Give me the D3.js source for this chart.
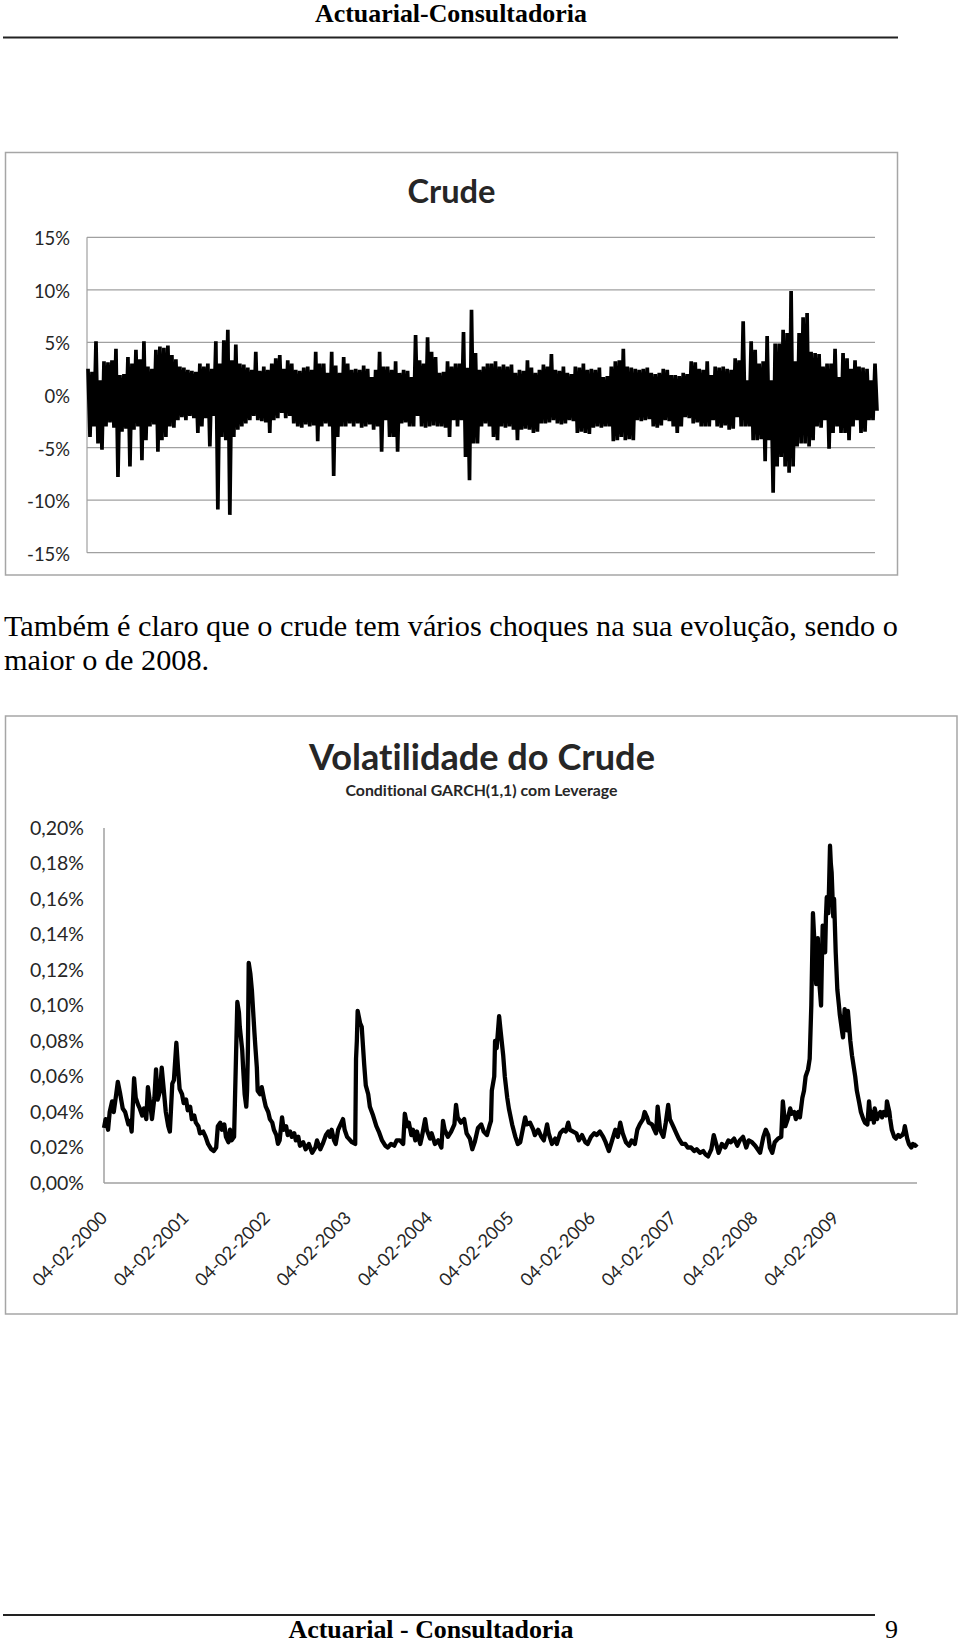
<!DOCTYPE html>
<html><head><meta charset="utf-8">
<script src="https://cdn.jsdelivr.net/npm/d3@7"></script>
<style>html,body{margin:0;padding:0;background:#fff;} svg{display:block;} text{font-variant-ligatures:none;font-feature-settings:"liga" 0,"clig" 0;}</style>
</head><body>
<svg id="page" width="960" height="1643"></svg>
<script>
// ---------------- DATA ----------------
const headerText = "Actuarial-Consultadoria";
const footerText = "Actuarial - Consultadoria";
const pageNumber = "9";
const bodyLines = ["Também é claro que o crude tem vários choques na sua evolução, sendo o", "maior o de 2008."];

const crudeTitle = "Crude";
const crudeTicks = [-15, -10, -5, 0, 5, 10, 15];
const crudeReturns = [
 2.5,-4.0, 2.2,-3.0, 5.1,-4.6, 1.4,-5.2, 3.2,-3.0, 3.1,-2.6, 3.3,-3.1, 4.4,-7.8, 1.9,-3.5, 2.0,-3.2,
 3.6,-6.8, 3.0,-3.3, 4.3,-3.0, 3.4,-6.2, 5.1,-4.3, 2.7,-3.0, 2.5,-2.8, 4.3,-5.4, 4.6,-4.3, 4.5,-4.0,
 4.7,-3.0, 3.8,-3.1, 3.4,-2.4, 2.7,-2.1, 2.6,-2.4, 2.4,-2.0, 2.3,-2.2, 2.2,-3.6, 3.0,-3.0, 2.7,-2.2,
 3.0,-4.9, 2.5,-2.0, 5.1,-10.9, 3.0,-4.0, 5.2,-4.3, 6.2,-11.4, 3.3,-4.0, 4.8,-3.3, 3.0,-3.0, 2.9,-2.7,
 2.6,-2.4, 2.4,-2.0, 4.1,-2.4, 2.3,-2.5, 2.7,-2.6, 2.4,-3.6, 3.0,-2.4, 3.5,-2.2, 3.8,-1.7, 2.5,-2.2,
 3.3,-2.0, 3.0,-2.7, 2.4,-3.0, 2.3,-3.1, 2.6,-2.8, 2.7,-3.0, 2.4,-2.9, 4.1,-4.4, 3.0,-3.0, 3.0,-2.7,
 2.1,-3.0, 4.1,-7.7, 2.8,-4.0, 2.1,-3.0, 3.6,-3.0, 3.0,-2.7, 2.4,-3.0, 2.5,-2.7, 2.4,-3.1, 2.8,-3.0,
 2.5,-2.8, 1.7,-3.3, 2.4,-3.0, 4.1,-5.4, 2.7,-2.4, 2.7,-4.0, 2.4,-4.0, 3.2,-5.4, 2.1,-2.7, 2.4,-2.6,
 2.3,-3.0, 1.7,-3.0, 5.7,-2.0, 3.3,-3.0, 3.0,-3.1, 5.5,-3.0, 4.1,-2.9, 3.6,-3.0, 2.1,-3.0, 2.2,-3.1,
 3.2,-4.0, 2.7,-2.4, 3.0,-3.0, 3.0,-2.4, 6.0,-5.9, 2.6,-8.1, 8.1,-4.6, 4.0,-4.6, 2.4,-3.0,
 2.7,-2.7, 3.0,-3.0, 3.0,-4.0, 3.2,-4.3, 2.7,-3.0, 2.9,-3.1, 2.7,-3.0, 2.9,-3.3, 2.1,-4.3, 2.4,-3.3,
 2.3,-3.2, 3.3,-3.3, 2.6,-3.6, 2.1,-3.5, 2.4,-2.7, 2.9,-2.7, 2.7,-2.6, 3.9,-2.4, 2.4,-2.7, 2.3,-2.8,
 2.7,-2.7, 2.1,-2.4, 2.0,-2.5, 2.7,-3.6, 2.6,-3.5, 3.0,-3.6, 2.4,-3.7, 2.5,-3.1, 2.4,-3.0, 2.6,-3.1,
 1.7,-3.0, 1.8,-3.0, 2.7,-4.4, 3.2,-4.3, 3.3,-4.0, 4.4,-4.3, 2.7,-4.2, 2.6,-4.3, 2.5,-2.4, 2.4,-2.5,
 2.5,-2.4, 2.6,-2.3, 2.1,-3.0, 2.0,-3.1, 2.1,-2.9, 2.5,-2.4, 2.4,-2.5, 1.9,-3.0, 1.9,-3.6, 1.8,-3.0,
 2.1,-2.1, 2.0,-2.2, 3.2,-2.7, 3.1,-2.6, 2.5,-3.0, 2.4,-3.0, 3.2,-3.0, 1.9,-2.4, 2.7,-3.0, 2.6,-3.1,
 2.7,-2.9, 2.5,-3.3, 2.4,-3.2, 3.5,-2.1, 3.3,-3.0, 7.0,-3.0, 1.4,-3.0, 5.1,-4.3, 4.3,-4.3, 3.0,-4.2,
 3.2,-6.3, 5.6,-4.3, 1.4,-9.3, 4.9,-6.8, 4.9,-5.9, 6.2,-6.8, 5.9,-7.4, 9.9,-6.8, 3.2,-4.9, 5.9,-4.6,
 7.4,-4.6, 7.8,-4.9, 4.1,-4.3, 4.0,-3.0, 3.9,-3.1, 2.7,-2.4, 3.0,-5.1, 3.0,-3.6, 4.4,-3.0, 1.7,-3.6,
 4.0,-3.6, 3.5,-4.3, 2.5,-3.0, 3.3,-2.4, 2.7,-3.6, 2.6,-3.5, 2.5,-2.4, 1.4,-2.4, 3.0,-1.5
];

const volTitle = "Volatilidade do Crude";
const volSubtitle = "Conditional GARCH(1,1) com Leverage";
const volTicks = [0, 0.02, 0.04, 0.06, 0.08, 0.10, 0.12, 0.14, 0.16, 0.18, 0.20];
const volDateLabels = ["04-02-2000","04-02-2001","04-02-2002","04-02-2003","04-02-2004",
                       "04-02-2005","04-02-2006","04-02-2007","04-02-2008","04-02-2009"];
// [years since 04-02-2000, conditional volatility in %]
const volSeries = [
 [0.00,.031],[0.02,.036],[0.05,.030],[0.07,.040],[0.10,.046],[0.12,.040],[0.15,.050],[0.17,.057],[0.20,.050],[0.23,.042],
 [0.26,.040],[0.30,.033],[0.32,.035],[0.34,.029],[0.37,.059],[0.39,.048],[0.42,.044],[0.44,.042],[0.47,.038],[0.49,.042],
 [0.52,.036],[0.54,.054],[0.57,.044],[0.59,.036],[0.62,.048],[0.64,.064],[0.66,.047],[0.69,.052],[0.71,.065],[0.74,.050],
 [0.76,.040],[0.79,.032],[0.81,.029],[0.84,.056],[0.86,.058],[0.89,.079],[0.91,.065],[0.93,.053],[0.96,.050],[0.98,.045],
 [1.01,.047],[1.03,.041],[1.06,.043],[1.08,.036],[1.11,.038],[1.13,.034],[1.16,.032],[1.18,.028],[1.22,.029],[1.25,.026],
 [1.28,.022],[1.32,.019],[1.35,.018],[1.38,.020],[1.40,.032],[1.43,.034],[1.45,.030],[1.48,.033],[1.50,.026],[1.53,.023],
 [1.55,.030],[1.57,.024],[1.60,.026],[1.61,.045],[1.64,.102],[1.66,.096],[1.67,.088],[1.70,.075],[1.71,.066],[1.73,.050],
 [1.75,.043],[1.76,.052],[1.77,.075],[1.78,.124],[1.80,.118],[1.82,.108],[1.85,.085],[1.86,.078],[1.88,.065],[1.89,.052],
 [1.92,.050],[1.94,.054],[1.97,.047],[1.99,.043],[2.02,.040],[2.04,.036],[2.07,.034],[2.09,.030],[2.12,.027],[2.14,.022],
 [2.16,.024],[2.19,.037],[2.21,.030],[2.24,.032],[2.26,.027],[2.29,.029],[2.31,.026],[2.34,.028],[2.36,.024],[2.39,.026],
 [2.41,.021],[2.45,.023],[2.48,.019],[2.52,.022],[2.56,.017],[2.60,.020],[2.62,.024],[2.66,.019],[2.69,.022],[2.73,.027],
 [2.76,.029],[2.78,.026],[2.80,.030],[2.83,.024],[2.85,.022],[2.88,.030],[2.92,.034],[2.94,.036],[2.96,.030],[2.99,.026],
 [3.01,.025],[3.05,.023],[3.09,.022],[3.10,.070],[3.11,.080],[3.12,.097],[3.15,.090],[3.17,.088],[3.20,.067],[3.22,.055],
 [3.25,.050],[3.27,.043],[3.31,.038],[3.35,.032],[3.38,.029],[3.42,.024],[3.46,.021],[3.49,.020],[3.53,.022],[3.57,.021],
 [3.60,.024],[3.64,.024],[3.68,.022],[3.70,.039],[3.73,.032],[3.75,.034],[3.78,.027],[3.80,.030],[3.83,.024],[3.85,.029],
 [3.89,.022],[3.91,.026],[3.95,.036],[3.97,.030],[4.01,.025],[4.03,.028],[4.07,.022],[4.11,.024],[4.15,.020],[4.17,.035],
 [4.19,.030],[4.23,.026],[4.27,.029],[4.31,.033],[4.33,.044],[4.35,.037],[4.39,.034],[4.43,.036],[4.46,.028],[4.50,.025],
 [4.53,.019],[4.56,.023],[4.60,.031],[4.64,.033],[4.67,.029],[4.71,.027],[4.74,.032],[4.76,.035],[4.77,.052],[4.80,.060],
 [4.81,.080],[4.83,.076],[4.86,.094],[4.88,.085],[4.91,.072],[4.93,.060],[4.96,.048],[4.98,.042],[5.02,.033],[5.06,.026],
 [5.09,.022],[5.12,.023],[5.15,.030],[5.18,.037],[5.20,.033],[5.24,.034],[5.28,.030],[5.30,.027],[5.34,.030],[5.38,.026],
 [5.41,.024],[5.45,.033],[5.47,.028],[5.51,.022],[5.55,.025],[5.57,.022],[5.61,.028],[5.65,.030],[5.68,.029],[5.71,.034],
 [5.73,.030],[5.77,.029],[5.81,.028],[5.84,.024],[5.88,.027],[5.92,.023],[5.95,.022],[5.99,.026],[6.03,.028],[6.06,.027],
 [6.10,.029],[6.14,.026],[6.17,.023],[6.21,.018],[6.25,.024],[6.29,.030],[6.32,.026],[6.35,.034],[6.38,.028],[6.42,.023],
 [6.46,.021],[6.49,.024],[6.53,.022],[6.56,.030],[6.59,.033],[6.63,.036],[6.65,.040],[6.68,.037],[6.70,.034],[6.74,.033],
 [6.77,.030],[6.79,.028],[6.81,.043],[6.84,.030],[6.88,.026],[6.91,.034],[6.94,.044],[6.96,.036],[7.00,.032],[7.04,.028],
 [7.07,.025],[7.11,.022],[7.15,.022],[7.18,.020],[7.22,.020],[7.26,.018],[7.29,.019],[7.33,.017],[7.37,.018],[7.40,.016],
 [7.43,.015],[7.47,.019],[7.50,.027],[7.53,.022],[7.56,.017],[7.60,.022],[7.64,.020],[7.68,.024],[7.71,.023],[7.75,.025],
 [7.79,.021],[7.82,.024],[7.86,.026],[7.90,.020],[7.93,.024],[7.97,.023],[8.01,.021],[8.04,.019],[8.07,.017],[8.11,.026],
 [8.14,.030],[8.17,.027],[8.19,.020],[8.22,.017],[8.25,.023],[8.29,.025],[8.33,.026],[8.35,.046],[8.38,.032],[8.41,.036],
 [8.44,.042],[8.46,.039],[8.49,.040],[8.51,.036],[8.54,.040],[8.56,.037],[8.59,.048],[8.61,.052],[8.63,.060],[8.66,.064],
 [8.68,.070],[8.70,.100],[8.71,.125],[8.72,.152],[8.75,.125],[8.76,.112],[8.77,.128],[8.78,.138],[8.79,.118],[8.82,.100],
 [8.83,.125],[8.84,.145],[8.86,.135],[8.87,.130],[8.88,.150],[8.89,.161],[8.91,.152],[8.92,.170],[8.93,.190],[8.94,.180],
 [8.95,.175],[8.97,.150],[8.98,.160],[9.00,.130],[9.02,.109],[9.04,.100],[9.05,.095],[9.08,.085],[9.09,.082],[9.11,.098],
 [9.13,.090],[9.14,.086],[9.15,.097],[9.18,.080],[9.20,.072],[9.21,.069],[9.24,.060],[9.26,.052],[9.29,.045],[9.31,.040],
 [9.34,.036],[9.36,.034],[9.39,.033],[9.41,.046],[9.43,.036],[9.45,.040],[9.47,.034],[9.48,.042],[9.51,.036],[9.52,.038],
 [9.55,.040],[9.57,.037],[9.59,.040],[9.62,.038],[9.63,.046],[9.66,.040],[9.67,.036],[9.69,.030],[9.72,.026],[9.74,.025],
 [9.77,.027],[9.79,.026],[9.82,.027],[9.84,.029],[9.85,.032],[9.88,.025],[9.90,.022],[9.93,.020],[9.95,.022],[9.98,.021],
 [10.00,.022]
];

// ---------------- DRAWING ----------------
const svg = d3.select('#page');
svg.append('rect').attr('width', 960).attr('height', 1643).attr('fill', '#fff');

const SERIF = "'Liberation Serif','Times New Roman',serif";
const SANS = "Lato,'Open Sans',sans-serif";
const TXT = '#262626';

function fit(sel, width) {
  const len = sel.node().getComputedTextLength();
  const fs = parseFloat(sel.attr('font-size'));
  sel.attr('font-size', (fs * width / len).toFixed(2));
  return sel;
}
function fitSize(sample, family, weight, width) {
  const t = svg.append('text').attr('font-family', family).attr('font-weight', weight)
    .attr('font-size', 20).text(sample);
  const s = 20 * width / t.node().getComputedTextLength();
  t.remove();
  return s;
}

// header / footer
fit(svg.append('text').attr('x', 451).attr('y', 22).attr('text-anchor', 'middle')
  .attr('font-family', SERIF).attr('font-weight', 'bold').attr('font-size', 26)
  .attr('fill', '#000').text(headerText), 272);
svg.append('line').attr('x1', 3).attr('x2', 898).attr('y1', 37.5).attr('y2', 37.5)
  .attr('stroke', '#222').attr('stroke-width', 2);

svg.append('line').attr('x1', 3).attr('x2', 875).attr('y1', 1615).attr('y2', 1615)
  .attr('stroke', '#222').attr('stroke-width', 2);
fit(svg.append('text').attr('x', 431).attr('y', 1638).attr('text-anchor', 'middle')
  .attr('font-family', SERIF).attr('font-weight', 'bold').attr('font-size', 26)
  .attr('fill', '#000').text(footerText), 285);
svg.append('text').attr('x', 898).attr('y', 1638).attr('text-anchor', 'end')
  .attr('font-family', SERIF).attr('font-size', 26).attr('fill', '#000').text(pageNumber);

// body text
const bodySize = fitSize(bodyLines[0], SERIF, 'normal', 894);
bodyLines.forEach((l, i) => {
  svg.append('text').attr('x', 4).attr('y', 636 + i * 34).attr('font-family', SERIF)
    .attr('font-size', bodySize).attr('fill', '#000').text(l);
});

// ---------- Chart 1: Crude ----------
const c1 = svg.append('g');
c1.append('rect').attr('x', 5.5).attr('y', 152.5).attr('width', 892).attr('height', 422.5)
  .attr('fill', '#fff').attr('stroke', '#a6a6a6').attr('stroke-width', 1.5);
fit(c1.append('text').attr('x', 451.5).attr('y', 202.5).attr('text-anchor', 'middle')
  .attr('font-family', SANS).attr('font-weight', 'bold').attr('font-size', 32)
  .attr('fill', TXT).text(crudeTitle), 88);

const x1 = d3.scaleLinear().domain([0, crudeReturns.length - 1]).range([88, 877]);
const y1 = d3.scaleLinear().domain([-15, 15]).range([552.7, 237.3]);

c1.append('g').selectAll('line').data(crudeTicks).join('line')
  .attr('x1', 87).attr('x2', 875).attr('y1', d => y1(d)).attr('y2', d => y1(d))
  .attr('stroke', '#a0a0a0').attr('stroke-width', 1.2);
c1.append('line').attr('x1', 87).attr('x2', 87).attr('y1', y1(15)).attr('y2', y1(-15))
  .attr('stroke', '#a0a0a0').attr('stroke-width', 1.2);
const lab1 = fitSize('-15%', SANS, 'normal', 43);
c1.append('g').selectAll('text').data(crudeTicks).join('text')
  .attr('x', 70).attr('y', d => y1(d) + 1.5).attr('dy', '0.35em').attr('text-anchor', 'end')
  .attr('font-family', SANS).attr('font-size', lab1).attr('fill', TXT)
  .text(d => d + '%');

c1.append('path').datum(crudeReturns)
  .attr('d', d3.line().x((d, i) => x1(i)).y(d => y1(d)))
  .attr('fill', 'none').attr('stroke', '#000').attr('stroke-width', 3.7)
  .attr('stroke-linejoin', 'bevel');

// ---------- Chart 2: Volatilidade ----------
const c2 = svg.append('g');
c2.append('rect').attr('x', 5.5).attr('y', 716).attr('width', 951.5).attr('height', 598)
  .attr('fill', '#fff').attr('stroke', '#a6a6a6').attr('stroke-width', 1.5);
fit(c2.append('text').attr('x', 482).attr('y', 770).attr('text-anchor', 'middle')
  .attr('font-family', SANS).attr('font-weight', 'bold').attr('font-size', 36)
  .attr('fill', TXT).text(volTitle), 346);
fit(c2.append('text').attr('x', 481.5).attr('y', 796).attr('text-anchor', 'middle')
  .attr('font-family', SANS).attr('font-weight', 'bold').attr('font-size', 16)
  .attr('fill', TXT).text(volSubtitle), 272);

const x2 = d3.scaleLinear().domain([0, 10]).range([104, 917]);
const y2 = d3.scaleLinear().domain([0, 0.20]).range([1183, 828]);

c2.append('line').attr('x1', 104).attr('x2', 104).attr('y1', y2(0.20)).attr('y2', y2(0))
  .attr('stroke', '#a0a0a0').attr('stroke-width', 1.5);
c2.append('line').attr('x1', 104).attr('x2', 917).attr('y1', y2(0)).attr('y2', y2(0))
  .attr('stroke', '#a0a0a0').attr('stroke-width', 1.5);

const fmt = d => d3.format('.2f')(d).replace('.', ',') + '%';
const lab2 = fitSize('0,20%', SANS, 'normal', 54);
c2.append('g').selectAll('text').data(volTicks).join('text')
  .attr('x', 84).attr('y', d => y2(d)).attr('dy', '0.35em').attr('text-anchor', 'end')
  .attr('font-family', SANS).attr('font-size', lab2).attr('fill', TXT).text(fmt);

const lab3 = fitSize('04-02-2000', SANS, 'normal', 97);
c2.append('g').selectAll('text').data(volDateLabels).join('text')
  .attr('transform', (d, i) => `translate(${x2(i) + 4.5},${y2(0) + 36}) rotate(-45)`)
  .attr('text-anchor', 'end').attr('font-family', SANS).attr('font-size', lab3)
  .attr('fill', TXT).text(d => d);

c2.append('path').datum(volSeries)
  .attr('d', d3.line().x(d => x2(d[0])).y(d => y2(d[1])))
  .attr('fill', 'none').attr('stroke', '#000').attr('stroke-width', 4.3)
  .attr('stroke-linejoin', 'round');
</script>
</body></html>
